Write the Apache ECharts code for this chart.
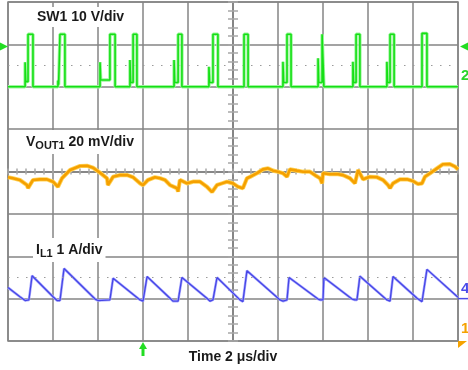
<!DOCTYPE html>
<html><head><meta charset="utf-8">
<script src="https://cdn.jsdelivr.net/npm/echarts@6/dist/echarts.min.js"></script>
<style>html,body{margin:0;padding:0;background:#fff}#c{width:468px;height:370px}</style>
</head><body><div id="c"></div>
<script>
// ---- Channel settings (position in divisions from centre, units per division)
const swPos = 2, swScale = 10;      // SW1 10 V/div
const voPos = 0, voScale = 20;      // VOUT1 20 mV/div (AC, relative to centre)
const ilPos = -3, ilScale = 1;      // IL1 1 A/div

// ---- SW1 switching pulses (time in µs, volts)
const swPre   = [-9.24, -7.78, -5.91, -4.58, -2.62, -1.07, null, 2.22, 3.78, 5.33, 6.84, null];
const swPreV  = [5.8, 1.5, 5.8, 6.3, 6.3, 4.7, null, 5.9, 6.7, 5.9, 5.9, null];
const swRingV = [1.2, 0.5, 1.6, 1.0, 1.0, 1.0, null, 1.0, 1.0, 1.0, 1.0, null];
const swRise  = [-9.11, -7.69, -5.47, -4.44, -2.44, -0.89, 0.49, 2.40, 3.96, 5.47, 6.98, 8.40];
const swFall  = [-8.89, -7.47, -5.24, -4.27, -2.27, -0.67, 0.67, 2.58, 4.04, 5.64, 7.16, 8.62];
const swHigh  = [12.4, 12.4, 12.4, 12.4, 12.4, 12.4, 12.4, 12.4, 12.4, 12.4, 12.4, 12.6];

// ---- VOUT1 ripple (time in µs, mV)
const voTime = [-10.0,-9.78,-9.47,-9.16,-9.11,-8.89,-8.58,-8.27,-8.0,-7.78,-7.6,-7.24,-6.8,-6.49,-6.22,-5.91,-5.6,-5.56,-5.33,-5.02,-4.71,-4.44,-4.13,-4.0,-3.78,-3.47,-3.24,-3.02,-2.8,-2.49,-2.44,-2.36,-2.04,-1.78,-1.47,-1.16,-0.93,-0.71,-0.49,-0.27,0,0.22,0.44,0.62,0.76,1.07,1.33,1.56,1.78,2.0,2.22,2.4,2.53,2.84,3.11,3.42,3.64,3.87,3.96,4.0,4.31,4.62,4.89,5.2,5.42,5.56,5.78,6.09,6.4,6.67,6.89,6.98,7.11,7.42,7.73,8.0,8.22,8.4,8.53,8.76,9.07,9.33,9.64,9.87,10.0];
const voMv = [-2.7,-3.2,-4.0,-6.4,-7.8,-4.0,-3.7,-3.7,-4.8,-7.2,-3.2,0.7,2.6,2.7,1.8,-0.6,-3.2,-6.4,-2.5,-1.7,-1.7,-2.7,-5.6,-6.4,-4.0,-2.7,-3.2,-4.0,-6.4,-7.9,-9.5,-4.0,-5.6,-4.8,-4.8,-7.2,-9.7,-6.4,-5.6,-4.8,-5.6,-7.2,-7.9,-3.2,-2.5,-0.8,1.0,1.5,0.4,-0.1,-0.8,-2.5,1.0,0.4,-0.1,-0.1,-1.7,-3.2,-5.6,-0.8,-1.3,-1.2,-1.7,-3.2,-5.6,0.7,-3.7,-2.5,-2.7,-4.0,-6.4,-7.9,-5.6,-3.7,-3.7,-4.5,-5.9,-5.6,-2.5,-0.8,1.5,3.4,3.5,2.3,1.0];

// ---- IL1 inductor current (time in µs, A)
const ilTime = [-10.0,-9.47,-9.24,-9.07,-8.93,-8.0,-7.82,-7.69,-7.51,-6.13,-6.0,-5.47,-5.33,-4.13,-4.0,-3.82,-2.8,-2.67,-2.44,-2.27,-1.16,-1.02,-0.89,-0.71,0.31,0.44,0.62,2.09,2.22,2.40,2.49,3.78,3.87,4.0,4.04,5.29,5.42,5.51,5.64,6.84,6.98,7.11,8.18,8.4,8.62,10.0];
const ilAmp  = [0.26,0.045,-0.045,-0.03,0.54,0.045,-0.045,-0.045,0.71,-0.01,-0.045,-0.03,0.48,-0.03,-0.06,0.52,0.01,-0.06,-0.06,0.50,0.01,-0.06,-0.03,0.50,-0.03,-0.07,0.66,-0.03,-0.06,-0.03,0.50,-0.01,-0.03,-0.03,0.50,-0.01,-0.03,-0.03,0.53,-0.03,-0.06,0.52,0.01,-0.07,0.69,0.03];

// ---- Levels / markers
const trigTime = -4.0;      // trigger position (µs)
const trigLevelV = 9.5;     // SW1 trigger level (V)
const cursorDiv = [2.5, -2.5];

// ---- build series in division units
function swDiv(v){ return v / swScale + swPos; }
const swData = [[-10, swDiv(0)]];
for (let i = 0; i < swRise.length; i++) {
  if (swPre[i] !== null) {
    swData.push([swPre[i], swDiv(0)], [swPre[i], swDiv(swPreV[i])], [swPre[i] + 0.03, swDiv(swRingV[i])], [swRise[i], swDiv(swRingV[i])]);
  } else {
    swData.push([swRise[i], swDiv(0)]);
  }
  swData.push([swRise[i], swDiv(swHigh[i])], [swFall[i], swDiv(swHigh[i])], [swFall[i], swDiv(0)]);
}
swData.push([10, swDiv(0)]);
const voData = voTime.map((t, i) => [t, voMv[i] / voScale + voPos]);
const ilData = ilTime.map((t, i) => [t, ilAmp[i] / ilScale + ilPos]);

const GRID = '#858585';
const TICK = '#a8a8a8';
function centreX(inside){
  return {type:'value',min:-10,max:10,interval:0.4,
    axisLine:{show:true,onZero:true,lineStyle:{color:GRID,width:1.5}},
    axisTick:{show:true,inside:inside,length:3,lineStyle:{color:TICK,width:1.5}},
    axisLabel:{show:false},splitLine:{show:false}};
}
function centreY(inside){
  return {type:'value',min:-4,max:4,interval:0.2,
    axisLine:{show:true,onZero:true,lineStyle:{color:GRID,width:1.5}},
    axisTick:{show:true,inside:inside,length:5,lineStyle:{color:TICK,width:1.5}},
    axisLabel:{show:false},splitLine:{show:false}};
}
function trace(data, color, width, z){
  return {type:'line',data:data,showSymbol:false,symbol:'none',lineStyle:{color:color,width:width},z:z,silent:true};
}

const chart = echarts.init(document.getElementById('c'));
const ilMain = trace(ilData, '#4646e6', 1.3, 4);
ilMain.markLine = {silent:true,symbol:'none',label:{show:false},lineStyle:{color:'#9a9a9a',type:[1.5,7.5],width:1.2},
  data:cursorDiv.map(v=>({yAxis:v}))};
chart.setOption({
  animation:false,
  grid:{left:8,right:10,top:2,bottom:29,show:true,borderColor:GRID,borderWidth:1.5,backgroundColor:'#fff'},
  xAxis:[
    {type:'value',min:-10,max:10,interval:2,axisLine:{show:false},axisTick:{show:false},axisLabel:{show:false},
     splitLine:{show:true,lineStyle:{color:GRID,width:1.5}}},
    centreX(true), centreX(false)
  ],
  yAxis:[
    {type:'value',min:-4,max:4,interval:1,axisLine:{show:false},axisTick:{show:false},axisLabel:{show:false},
     splitLine:{show:true,lineStyle:{color:GRID,width:1.5}}},
    centreY(true), centreY(false)
  ],
  series:[
    trace(ilData, '#a8a8ff', 2.6, 3),
    ilMain,
    trace(voData, '#ffd45a', 4.2, 5),
    trace(voData, '#f5a000', 2.6, 6),
    trace(swData, '#9ff59f', 3.4, 7),
    trace(swData, '#14e014', 1.6, 8)
  ]
});

function px(t, d){ return chart.convertToPixel({xAxisIndex:0,yAxisIndex:0},[t,d]); }
const tl = px(-10, swDiv(trigLevelV));
const tr = px(10, swDiv(trigLevelV));
const swG = px(10, swPos);
const ilG = px(10, ilPos);
const bot = px(trigTime, -4);
const br = px(10, -4);
const FONT = "'Liberation Sans', Arial, sans-serif";
function label(x, y, text, rich){
  return {type:'text',x:x,y:y,z:100,style:{text:text,align:'left',verticalAlign:'middle',
    font:'bold 14px '+FONT,fill:'#1a1a1a',backgroundColor:'#fff',padding:[3,3],rich:rich}};
}
const subRich = {
  m:{fontSize:14,fontWeight:'bold',fontFamily:FONT,fill:'#1a1a1a',lineHeight:18,verticalAlign:'middle'},
  s:{fontSize:11,fontWeight:'bold',fontFamily:FONT,fill:'#1a1a1a',lineHeight:13,verticalAlign:'bottom'}
};
chart.setOption({graphic:[
  label(34, 17, 'SW1 10 V/div'),
  label(23, 142, '{m|V}{s|OUT1}{m| 20 mV/div}', subRich),
  label(33, 250, '{m|I}{s|L1}{m| 1 A/div}', subRich),
  {type:'text',x:233,y:357.5,z:100,style:{text:'Time 2 μs/div',align:'center',verticalAlign:'middle',font:'bold 14px '+FONT,fill:'#1a1a1a'}},
  // SW1 trigger level arrows
  {type:'polygon',z:100,shape:{points:[[0,tl[1]-4],[8,tl[1]],[0,tl[1]+4]]},style:{fill:'#22dd22'}},
  {type:'polygon',z:100,shape:{points:[[tr[0]+10,tr[1]-4],[tr[0]+2,tr[1]],[tr[0]+10,tr[1]+4]]},style:{fill:'#22dd22'}},
  // channel numbers
  {type:'text',x:swG[0]+3,y:swG[1]-3,z:100,style:{text:'2',align:'left',verticalAlign:'bottom',font:'bold 15px '+FONT,fill:'#2ad42a'}},
  {type:'text',x:ilG[0]+3,y:ilG[1]-2,z:100,style:{text:'4',align:'left',verticalAlign:'bottom',font:'bold 15px '+FONT,fill:'#4a4ae8'}},
  {type:'line',z:100,shape:{x1:ilG[0],y1:ilG[1],x2:ilG[0]+10,y2:ilG[1]},style:{stroke:'#4a4ae8',lineWidth:1.5}},
  {type:'text',x:br[0]+3,y:br[1]-5,z:100,style:{text:'1',align:'left',verticalAlign:'bottom',font:'bold 15px '+FONT,fill:'#f5a200'}},
  {type:'polygon',z:100,shape:{points:[[br[0],br[1]],[br[0]+9,br[1]],[br[0],br[1]+7]]},style:{fill:'#f5a200'}},
  // trigger position arrow
  {type:'polygon',z:100,shape:{points:[[bot[0]-4,bot[1]+8],[bot[0],bot[1]+1],[bot[0]+4,bot[1]+8]]},style:{fill:'#22dd22'}},
  {type:'rect',z:100,shape:{x:bot[0]-1.5,y:bot[1]+7,width:3,height:8},style:{fill:'#22dd22'}}
]});
</script>
</body></html>
